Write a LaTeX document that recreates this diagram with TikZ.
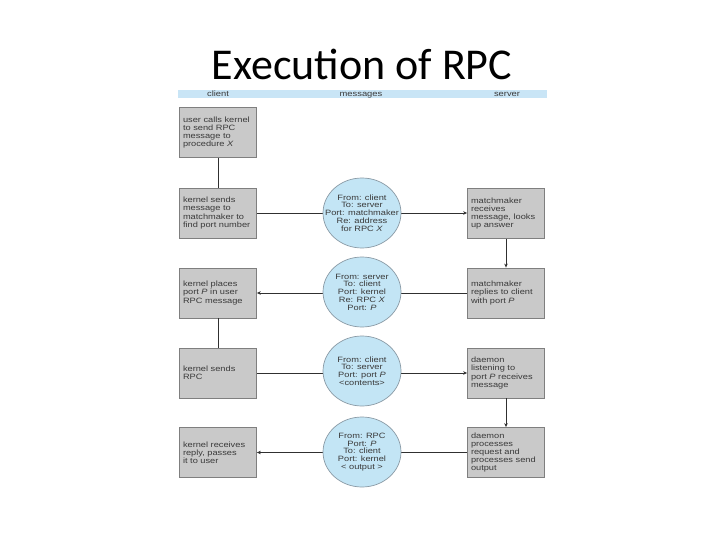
\documentclass[tikz,border=0pt]{standalone}
\usepackage{fontspec}
\setmainfont{Carlito}
\newfontfamily\df[FakeStretch=1.2]{Liberation Sans}
\usetikzlibrary{arrows.meta,shapes.geometric}
\definecolor{boxfill}{HTML}{C9C9C9}
\definecolor{boxdraw}{HTML}{7F7F7F}
\definecolor{msgfill}{HTML}{C3E5F5}
\definecolor{msgdraw}{HTML}{8A9AA5}
\definecolor{barfill}{HTML}{C9E5F6}
\definecolor{txt}{HTML}{3A3A3A}
\definecolor{conn}{HTML}{303030}
\tikzset{
  stepbox/.style={draw=boxdraw, fill=boxfill, line width=0.8pt, minimum width=77pt, minimum height=50pt,
    text width=70pt, align=left, inner sep=3.5pt, font=\df\fontsize{7.7}{8.2}\selectfont, text=txt},
  msg/.style={ellipse, draw=msgdraw, fill=msgfill, line width=0.7pt, minimum width=78pt, minimum height=70pt,
    inner xsep=-13pt, inner ysep=0pt, align=center, font=\df\fontsize{7.7}{7.8}\selectfont, text=txt},
  hdr/.style={font=\df\fontsize{7.8}{8}\selectfont, text=txt, inner sep=0pt, anchor=base},
  link/.style={draw=conn, line width=0.9pt},
  flow/.style={link, -{Stealth[length=4pt,width=3.5pt]}}
}
\begin{document}
\begin{tikzpicture}[x=1pt,y=-1pt]
\useasboundingbox (0,0) rectangle (720,540);
\node[anchor=base, font=\fontsize{44}{46}\selectfont, inner sep=0pt] (title) at (362,80) {Execution of RPC};
\fill[barfill] (178,90) rectangle (547,98.5);
\node[hdr] (hc) at (218,97) {client};
\node[hdr] (hm) at (361,97) {messages};
\node[hdr] (hs) at (507,97) {server};

% client boxes
\node[stepbox] (c1) at (218,132.5) {user calls kernel\\to send RPC\\message to\\procedure \textit{X}};
\node[stepbox] (c2) at (218,213) {kernel sends\\message to\\matchmaker to\\find port number};
\node[stepbox] (c3) at (218,293) {kernel places\\port \textit{P} in user\\RPC message};
\node[stepbox] (c4) at (218,373) {kernel sends\\RPC};
\node[stepbox] (c5) at (218,452.5) {kernel receives\\reply, passes\\it to user};

% server boxes
\node[stepbox] (s2) at (506,213.5) {matchmaker\\receives\\message, looks\\up answer};
\node[stepbox] (s3) at (506,293) {matchmaker\\replies to client\\with port \textit{P}};
\node[stepbox] (s4) at (506,373) {daemon\\listening to\\port \textit{P} receives\\message};
\node[stepbox] (s5) at (506,452.5) {daemon\\processes\\request and\\processes send\\output};

% connectors
\draw[link] (c1) -- (c2);
\draw[link] (c3) -- (c4);
\draw[flow] (s2) -- (s3);
\draw[flow] (s4) -- (s5);
\draw[flow] (c2.east) -- (s2.west |- c2.east);
\draw[flow] (s3.west) -- (c3.east);
\draw[flow] (c4.east) -- (s4.west);
\draw[flow] (s5.west) -- (c5.east);

% messages
\node[msg] (m1) at (362,213) {From: client\\To: server\\Port: matchmaker\\Re: address\\for RPC \textit{X}};
\node[msg] (m2) at (362,292) {From: server\\To: client\\Port: kernel\\Re: RPC \textit{X}\\Port: \textit{P}};
\node[msg] (m3) at (362,371) {From: client\\To: server\\Port: port \textit{P}\\<contents>};
\node[msg] (m4) at (362,452) {From: RPC\\Port: \textit{P}\\To: client\\Port: kernel\\< output >};
\end{tikzpicture}
\end{document}
